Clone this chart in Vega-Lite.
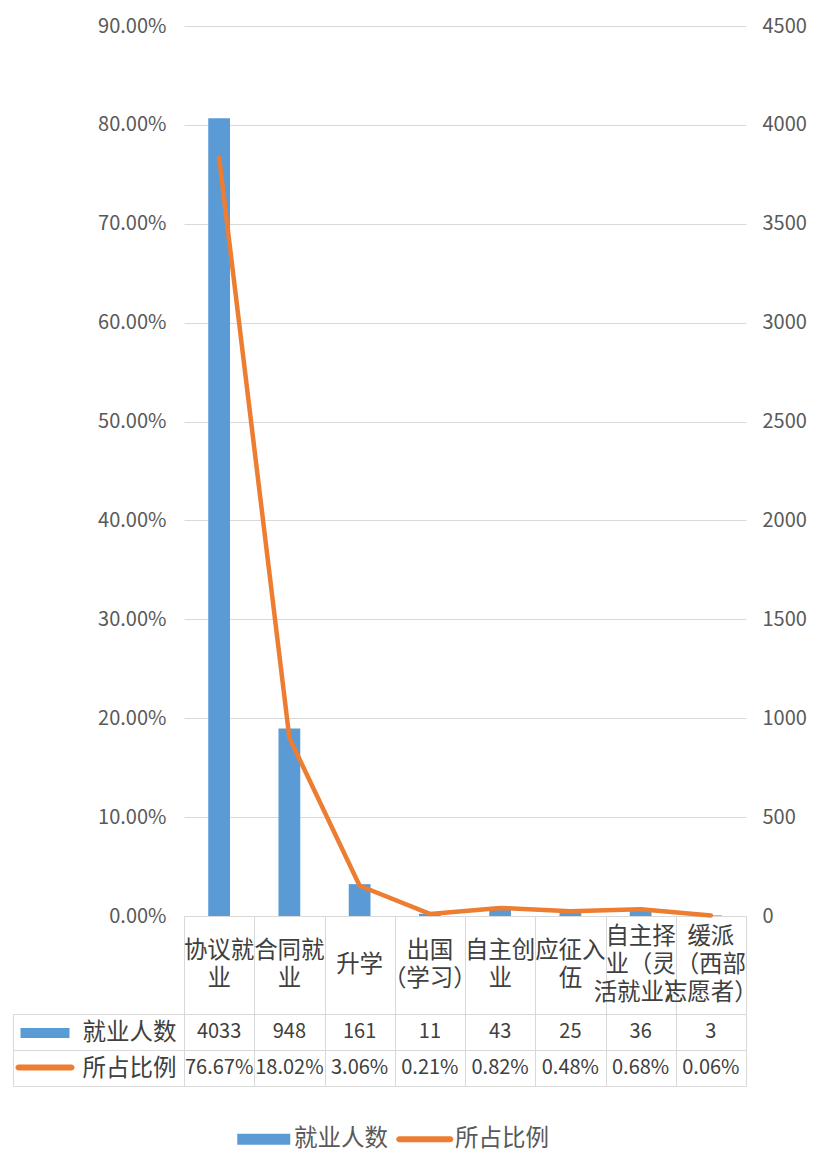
{
  "$schema": "https://vega.github.io/schema/vega-lite/v6.json",
  "background": "white",
  "padding": {"left": 12, "top": 16, "right": 5, "bottom": 5},
  "config": {
    "view": {"stroke": null},
    "font": "Noto Sans CJK SC",
    "axis": {"labelFont": "Noto Sans CJK SC"},
    "legend": {"labelFont": "Noto Sans CJK SC"}
  },
  "datasets": {
    "rows": [
      {"类别": "协议就业", "表头": "协议就\n业", "就业人数": 4033, "所占比例": 0.7667},
      {"类别": "合同就业", "表头": "合同就\n业", "就业人数": 948, "所占比例": 0.1802},
      {"类别": "升学", "表头": "升学", "就业人数": 161, "所占比例": 0.0306},
      {"类别": "出国（学习）", "表头": "出国\n（学习）", "就业人数": 11, "所占比例": 0.0021},
      {"类别": "自主创业", "表头": "自主创\n业", "就业人数": 43, "所占比例": 0.0082},
      {"类别": "应征入伍", "表头": "应征入\n伍", "就业人数": 25, "所占比例": 0.0048},
      {"类别": "自主择业（灵活就业）", "表头": "自主择\n业（灵\n活就业）", "就业人数": 36, "所占比例": 0.0068},
      {"类别": "缓派（西部志愿者）", "表头": "缓派\n（西部\n志愿者）", "就业人数": 3, "所占比例": 0.0006}
    ],
    "series": [{"系列": "就业人数"}, {"系列": "所占比例"}]
  },
  "spacing": 0,
  "bounds": "flush",
  "resolve": {"legend": {"color": "independent"}},
  "vconcat": [
    {
      "width": 562,
      "height": 890,
      "data": {"name": "rows"},
      "encoding": {
        "x": {
          "field": "类别", "type": "nominal", "sort": null,
          "scale": {"paddingInner": 0.69, "paddingOuter": 0.345},
          "axis": {"title": null, "labels": false, "ticks": false, "domain": true, "domainColor": "#d9d9d9", "grid": false}
        }
      },
      "layer": [
        {
          "mark": {"type": "bar"},
          "encoding": {
            "y": {
              "field": "就业人数", "type": "quantitative",
              "scale": {"domain": [0, 4500]},
              "axis": {"orient": "right", "title": null, "values": [0, 500, 1000, 1500, 2000, 2500, 3000, 3500, 4000, 4500], "format": "d", "grid": false, "domain": false, "ticks": false, "labelPadding": 16, "labelFontSize": 20, "labelColor": "#595959"}
            },
            "color": {
              "datum": "就业人数", "type": "nominal",
              "scale": {"domain": ["就业人数", "所占比例"], "range": ["#5B9BD5", "#ED7D31"]},
              "legend": {
                "title": null, "orient": "none", "legendX": 68, "legendY": 1101, "direction": "horizontal",
                "symbolSize": 400, "labelFontSize": 23.5, "labelColor": "#595959", "labelOffset": 18.5, "columnPadding": 8, "padding": 0,
                "encode": {
                  "symbols": {
                    "update": {
                      "shape": {"signal": "datum.value === '就业人数' ? 'M-2.65,-0.55H2.65V0.55H-2.65Z' : 'M-2.55,-0.3H2.55A0.3,0.3 0 0 1 2.55,0.3H-2.55A0.3,0.3 0 0 1 -2.55,-0.3Z'"},
                      "fill": {"signal": "datum.value === '就业人数' ? '#5B9BD5' : '#ED7D31'"},
                      "strokeWidth": {"value": 0},
                      "opacity": {"value": 1},
                      "size": {"value": 400}
                    }
                  }
                }
              }
            }
          }
        },
        {
          "mark": {"type": "line", "strokeWidth": 4.5, "strokeJoin": "round", "strokeCap": "round"},
          "encoding": {
            "y": {
              "field": "所占比例", "type": "quantitative",
              "scale": {"domain": [0, 0.9]},
              "axis": {"orient": "left", "title": null, "values": [0, 0.1, 0.2, 0.3, 0.4, 0.5, 0.6, 0.7, 0.8, 0.9], "format": ".2%", "grid": true, "gridColor": "#d9d9d9", "domain": false, "ticks": false, "labelPadding": 18, "labelFontSize": 20, "labelColor": "#595959"}
            },
            "color": {"datum": "所占比例", "type": "nominal"}
          }
        }
      ],
      "resolve": {"scale": {"y": "independent"}}
    },
    {
      "width": 562,
      "height": 98,
      "data": {"name": "rows"},
      "encoding": {
        "x": {
          "field": "类别", "type": "nominal",
          "scale": {"domain": ["协议就业", "合同就业", "升学", "出国（学习）", "自主创业", "应征入伍", "自主择业（灵活就业）", "缓派（西部志愿者）"], "paddingInner": 0, "paddingOuter": 0},
          "axis": {"title": null, "labels": false, "ticks": false, "domain": false, "grid": true, "tickBand": "extent", "gridColor": "#d9d9d9"}
        },
        "text": {"field": "表头", "type": "nominal"}
      },
      "layer": [
        {
          "transform": [{"filter": "split(datum['表头'], '\\n').length == 1"}],
          "mark": {"type": "text", "lineBreak": "\n", "lineHeight": 28, "fontSize": 23.5, "color": "#404040", "baseline": "middle", "align": "center"}
        },
        {
          "transform": [{"filter": "split(datum['表头'], '\\n').length == 2"}],
          "mark": {"type": "text", "lineBreak": "\n", "lineHeight": 28, "fontSize": 23.5, "color": "#404040", "baseline": "middle", "align": "center", "dy": -14}
        },
        {
          "transform": [{"filter": "split(datum['表头'], '\\n').length == 3"}],
          "mark": {"type": "text", "lineBreak": "\n", "lineHeight": 28, "fontSize": 23.5, "color": "#404040", "baseline": "middle", "align": "center", "dy": -28}
        }
      ]
    },
    {
      "width": 562,
      "height": 72,
      "layer": [
        {
          "data": {"name": "rows"},
          "encoding": {
            "x": {
              "field": "类别", "type": "nominal", "sort": null,
              "scale": {"paddingInner": 0, "paddingOuter": 0},
              "axis": {"title": null, "labels": false, "ticks": false, "domain": false, "grid": true, "tickBand": "extent", "gridColor": "#d9d9d9"}
            }
          },
          "layer": [
            {
              "mark": {"type": "text", "fontSize": 20, "color": "#404040"},
              "encoding": {
                "y": {
                  "datum": "就业人数", "type": "nominal",
                  "scale": {"domain": ["就业人数", "所占比例"], "paddingInner": 0, "paddingOuter": 0},
                  "axis": {"orient": "left", "title": null, "domain": true, "domainColor": "#d9d9d9", "ticks": true, "tickBand": "extent", "tickSize": 171, "tickColor": "#d9d9d9", "grid": true, "gridColor": "#d9d9d9", "labelPadding": -163, "labelFontSize": 23.5, "labelColor": "#404040", "labelAlign": "right", "labelBaseline": "middle"}
                },
                "text": {"field": "就业人数", "type": "quantitative", "format": "d"}
              }
            },
            {
              "mark": {"type": "text", "fontSize": 20, "color": "#404040"},
              "encoding": {
                "y": {"datum": "所占比例", "type": "nominal"},
                "text": {"field": "所占比例", "type": "quantitative", "format": ".2%"}
              }
            }
          ]
        },
        {
          "data": {"name": "series"},
          "mark": {"type": "bar", "opacity": 0},
          "encoding": {
            "y": {
              "field": "系列", "type": "nominal",
              "scale": {"domain": ["就业人数", "所占比例"], "paddingInner": 0, "paddingOuter": 0},
              "axis": {"orient": "left", "offset": 171, "title": null, "domain": true, "domainColor": "#d9d9d9", "ticks": false, "labels": false, "grid": false}
            },
            "color": {
              "field": "系列", "type": "nominal",
              "legend": {
                "title": null, "orient": "none", "legendX": -149, "legendY": 9, "direction": "vertical",
                "symbolSize": 400, "labelExpr": "''", "labelFontSize": 1, "rowPadding": 19.5, "padding": 0,
                "encode": {
                  "symbols": {
                    "update": {
                      "shape": {"signal": "datum.value === '就业人数' ? 'M-2.45,-0.5H2.45V0.5H-2.45Z' : 'M-2.65,-0.3H2.65A0.3,0.3 0 0 1 2.65,0.3H-2.65A0.3,0.3 0 0 1 -2.65,-0.3Z'"},
                      "fill": {"signal": "datum.value === '就业人数' ? '#5B9BD5' : '#ED7D31'"},
                      "strokeWidth": {"value": 0},
                      "opacity": {"value": 1},
                      "size": {"value": 400}
                    }
                  }
                }
              }
            }
          }
        }
      ],
      "resolve": {"scale": {"y": "independent"}, "axis": {"y": "independent"}}
    }
  ]
}
